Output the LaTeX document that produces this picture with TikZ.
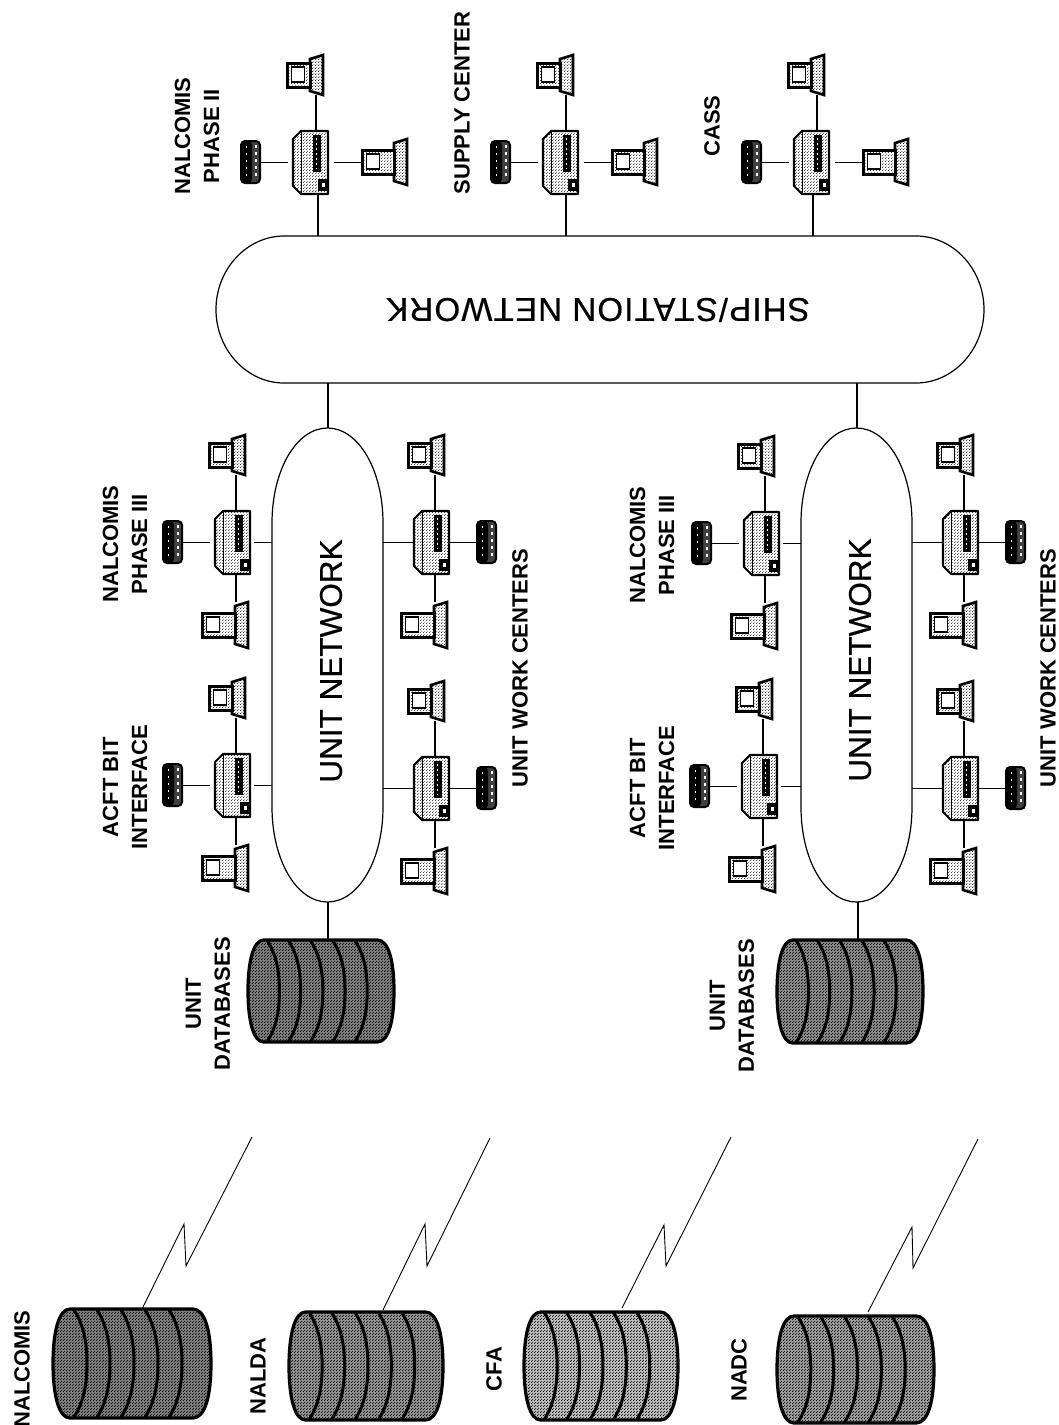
\documentclass[tikz,border=0pt]{standalone}
\usepackage{fontspec}
\setmainfont{Liberation Sans}
\newfontfamily\shipfont[LetterSpace=3.6,FakeBold=0.5]{Liberation Sans}
\newfontfamily\netfont[FakeBold=0.6]{Liberation Sans}
\usetikzlibrary{patterns}
\pgfdeclarepatternformonly{halfdots}{\pgfqpoint{0pt}{0pt}}{\pgfqpoint{3pt}{3pt}}{\pgfqpoint{3pt}{3pt}}{%
  \pgfpathcircle{\pgfqpoint{0.75pt}{0.75pt}}{0.68pt}%
  \pgfpathcircle{\pgfqpoint{2.25pt}{2.25pt}}{0.68pt}%
  \pgfusepath{fill}}
\pgfdeclarepatternformonly{lightdots}{\pgfqpoint{0pt}{0pt}}{\pgfqpoint{3pt}{3pt}}{\pgfqpoint{3pt}{3pt}}{%
  \pgfpathcircle{\pgfqpoint{0.75pt}{0.75pt}}{0.62pt}%
  \pgfpathcircle{\pgfqpoint{2.25pt}{2.25pt}}{0.62pt}%
  \pgfusepath{fill}}
\tikzset{
  iconbox/.style={inner sep=0pt,outer sep=0pt,draw=none},
  link/.style={draw=black,line width=1.1pt},
  boltline/.style={draw=black,line width=0.9pt,line join=miter},
  netline/.style={draw=black,line width=1.2pt},
  tone/.style={pattern=lightdots,pattern color=black},
  label/.style={inner sep=0pt,outer sep=0pt,rotate=90,align=center,font=\fontsize{22}{29}\selectfont\bfseries},
  netlabel/.style={inner sep=0pt,outer sep=0pt,rotate=90,font=\fontsize{31.5}{36}\selectfont\netfont},
}
\newcommand{\mkserver}[3]{%
  \begin{scope}[shift={(#2-22,#3-31)}]
    \path[fill=white] (8,0)--(35,0)--(35,63)--(8,63)--(0,55)--(0,8)--cycle;
    \path[tone] (8,0)--(35,0)--(35,63)--(8,63)--(0,55)--(0,8)--cycle;
    \draw[line width=2.1pt,line join=round] (8,0)--(35,0)--(35,63)--(8,63)--(0,55)--(0,8)--cycle;
    \draw[line width=1pt] (8,1)--(8,62);
    \fill[black] (19.5,4) rectangle (27.5,41);
    \draw[white,line width=1pt,dash pattern=on 2pt off 3pt] (23.5,7)--(23.5,38);
    \fill[black] (25,48) rectangle (35,60);
    \fill[white] (29,52) rectangle (32,56);
  \end{scope}
  \node[iconbox,minimum width=35pt,minimum height=63pt] (#1) at (#2-4.5,#3+0.5) {};
}
% name, left x, width, centre y, half height of base, x offset of the port
\newcommand{\mkterm}[6]{%
  \pgfmathsetmacro{\mw}{#3-13}
  \pgfmathsetmacro{\hl}{#5-4}
  \begin{scope}[shift={(#2,#4)}]
    \path[fill=white] (\mw,-\hl)--(#3,-#5)--(#3,#5)--(\mw,\hl)--cycle;
    \path[tone] (\mw,-\hl)--(#3,-#5)--(#3,#5)--(\mw,\hl)--cycle;
    \draw[line width=2.6pt,line join=miter] (\mw,-\hl)--(#3,-#5)--(#3,#5)--(\mw,\hl)--cycle;
    \path[fill=white] (0,-12) rectangle (\mw,12);
    \path[tone] (0,-12) rectangle (\mw,12);
    \draw[line width=3pt] (0,-12) rectangle (\mw,12);
    \draw[fill=white,line width=1.3pt] (4.5,-8) rectangle (17.5,7);
  \end{scope}
  \node[iconbox,minimum width=#3pt,minimum height=2*#5pt] (#1) at (#2+#3/2,#4) {};
  \coordinate (#1port) at (#2+#6,#4);
}
\newcommand{\mkprinter}[3]{%
  \begin{scope}[shift={(#2,#3)}]
    \draw[fill=black!75,line width=2pt,rounded corners=4pt] (0,-21) rectangle (19,21);
    \fill[black,rounded corners=4pt] (0,-21) rectangle (11,21);
    \draw[white,line width=1pt,dash pattern=on 2pt off 5pt] (5,-16)--(5,16);
    \draw[white,line width=1.2pt,dash pattern=on 3pt off 4pt] (15,-17)--(15,17);
  \end{scope}
  \node[iconbox,minimum width=20pt,minimum height=44pt] (#1) at (#2+10,#3) {};
}
% name, x1, x2, y1, y2, base grey
\newcommand{\mkdb}[6]{%
  \pgfmathsetmacro{\sx}{(#3-#2)/158}
  \pgfmathsetmacro{\sy}{(#5-#4)/109}
  \begin{scope}[shift={(#2,#4)},xscale=\sx,yscale=\sy]
    \def\dbpath{(17,0)--(140,0) .. controls (152,0) and (158,22) .. (158,54.5) .. controls (158,87) and (152,109) .. (140,109) -- (17,109) .. controls (6,109) and (0,87) .. (0,54.5) .. controls (0,22) and (6,0) .. (17,0) -- cycle}
    \path[fill=#6] \dbpath;
    \path[pattern=halfdots] \dbpath;
    \foreach \pk in {34,57,81,105,129} {
      \draw[line width=3pt] (\pk-13,1) .. controls (\pk-3,16) and (\pk,35) .. (\pk,54.5) .. controls (\pk,74) and (\pk-3,93) .. (\pk-13,108);
    }
    \draw[line width=3.2pt] \dbpath;
  \end{scope}
  \node[iconbox,minimum width=#3pt-#2pt,minimum height=#5pt-#4pt] (#1) at ({(#2+#3)/2},{(#4+#5)/2}) {};
}
% id, server x, server y, bottom link offset (ship side)
\newcommand{\shipstation}[4]{%
  \mkserver{#1}{#2}{#3}
  \mkprinter{#1pr}{#2-74}{#3}
  \mkterm{#1tt}{#2-28}{36}{#3-87}{20}{29}
  \mkterm{#1rt}{#2+47}{45}{#3}{23}{0}
  \draw[link] (#1ttport |- #1tt.south) -- (#1ttport |- #1.north);
  \draw[link,shorten >=5pt] (#1pr.east |- #1.center) -- (#1.west);
  \draw[link,shorten <=6pt] (#1.east) -- (#1rt.west |- #1.center);
  \coordinate (#1down) at (#2+#4,#3);
  \draw[link] (#1down |- #1.south) -- (#1down |- ship.north);
}
% id, server x, server y, printer offset
\newcommand{\unitstation}[4]{%
  \mkserver{#1}{#2}{#3}
  \mkprinter{#1pr}{#2+#4}{#3}
  \mkterm{#1tt}{#2-28}{36}{#3-87}{20}{27}
  \mkterm{#1bt}{#2-35}{46}{#3+83}{23}{34}
  \draw[link] (#1ttport |- #1tt.south) -- (#1ttport |- #1.north);
  \draw[link] (#1btport |- #1.south) -- (#1btport |- #1bt.north);
}
\newcommand{\mknet}[3]{%
  \begin{scope}[shift={(#2,#3)}]
    \draw[netline,fill=white] (0,-237) .. controls (31,-237) and (55.5,-195) .. (55.5,-142) -- (55.5,142) .. controls (55.5,195) and (31,237) .. (0,237) .. controls (-31,237) and (-55.5,195) .. (-55.5,142) -- (-55.5,-142) .. controls (-55.5,-195) and (-31,-237) .. (0,-237) -- cycle;
  \end{scope}
  \node[iconbox,minimum width=111pt,minimum height=474pt] (#1) at (#2,#3) {};
}
\begin{document}
\begin{tikzpicture}[x=1pt,y=-1pt]
\useasboundingbox[fill=white] (0,0) rectangle (1059,1425);

% ship / station network
\draw[netline,fill=white] (284,236) -- (916,236) .. controls (953,236) and (984,269) .. (984,309.5) .. controls (984,350) and (953,383) .. (916,383) -- (284,383) .. controls (247,383) and (216,350) .. (216,309.5) .. controls (216,269) and (247,236) .. (284,236) -- cycle;
\node[iconbox,minimum width=768pt,minimum height=147pt] (ship) at (600,309.5) {};
\node[inner sep=0pt,outer sep=0pt,rotate=180,font=\fontsize{33}{36}\selectfont\shipfont] (shiplabel) at (598,310) {SHIP/STATION NETWORK};

\shipstation{nalcii}{315}{162}{3}
\shipstation{supply}{565}{162}{1}
\shipstation{cass}{816}{162}{-3}

\mknet{netone}{327.5}{665}
\mknet{nettwo}{856.5}{665}
\node[netlabel] (netonelabel) at (331,661) {UNIT NETWORK};
\node[netlabel] (nettwolabel) at (860,660) {UNIT NETWORK};

\coordinate (shipone) at (328,383);
\coordinate (shiptwo) at (857,383);
\draw[link] (shipone) -- (shipone |- netone.north);
\draw[link] (shiptwo) -- (shiptwo |- nettwo.north);

% clusters of the first unit network
\unitstation{ua}{237}{542}{-74}
\unitstation{ub}{237}{785}{-74}
\unitstation{uc}{436}{542}{41}
\unitstation{ud}{436}{788}{41}
% clusters of the second unit network
\unitstation{va}{766}{543}{-74}
\unitstation{vb}{764}{786}{-74}
\unitstation{vc}{965}{542}{41}
\unitstation{vd}{965}{788}{41}

\foreach \s/\n in {ua/netone,ub/netone,va/nettwo,vb/nettwo} {
  \draw[link,shorten >=5pt] (\s pr.east |- \s.center) -- (\s.west);
  \draw[link,shorten <=4pt] (\s.east) -- (\s.center -| \n.west);
}
\foreach \s/\n in {uc/netone,ud/netone,vc/nettwo,vd/nettwo} {
  \draw[link] (\s.east) -- (\s pr.west |- \s.center);
  \draw[link] (\s.center -| \n.east) -- (\s.west);
}

% databases
\mkdb{dbone}{248}{394}{940}{1042}{black!50}
\mkdb{dbtwo}{777}{923}{940}{1043}{black!45}
\coordinate (dbonelink) at (328,940);
\coordinate (dbtwolink) at (858,940);
\draw[link] (dbonelink |- netone.south) -- (dbonelink |- dbone.north);
\draw[link] (dbtwolink |- nettwo.south) -- (dbtwolink |- dbtwo.north);

\mkdb{dbnalc}{53}{211}{1309}{1418}{black!50}
\mkdb{dbnalda}{289}{443}{1312}{1420}{black!42}
\mkdb{dbcfa}{524}{678}{1312}{1420}{black!25}
\mkdb{dbnadc}{777}{934}{1316}{1423}{black!38}

% radio links
\coordinate (ba) at (252,1137); \coordinate (ba1) at (186,1266); \coordinate (ba2) at (184,1224); \coordinate (ba3) at (142,1309);
\draw[boltline] (ba) -- (ba1) -- (ba2) -- (ba3 |- dbnalc.north);
\coordinate (bb) at (490,1138); \coordinate (bb1) at (427,1266); \coordinate (bb2) at (425,1224); \coordinate (bb3) at (383,1310);
\draw[boltline] (bb) -- (bb1) -- (bb2) -- (bb3);
\coordinate (bc) at (731,1137); \coordinate (bc1) at (666,1266); \coordinate (bc2) at (664,1225); \coordinate (bc3) at (622,1308);
\draw[boltline] (bc) -- (bc1) -- (bc2) -- (bc3);
\coordinate (bd) at (978,1139); \coordinate (bd1) at (913,1268); \coordinate (bd2) at (912,1227); \coordinate (bd3) at (868,1312);
\draw[boltline] (bd) -- (bd1) -- (bd2) -- (bd3);

% labels
\node[label] (l1) at (197,136) {NALCOMIS\\PHASE II};
\node[label] (l2) at (462,103) {SUPPLY CENTER};
\node[label] (l3) at (712,126) {CASS};
\node[label] (l4) at (125,544) {NALCOMIS\\PHASE III};
\node[label] (l5) at (125,787) {ACFT BIT\\INTERFACE};
\node[label] (l6) at (520,668) {UNIT WORK CENTERS};
\node[label] (l7) at (652,545) {NALCOMIS\\PHASE III};
\node[label] (l8) at (652,788) {ACFT BIT\\INTERFACE};
\node[label] (l9) at (1048,668) {UNIT WORK CENTERS};
\node[label] (l10) at (208,1004) {UNIT\\DATABASES};
\node[label] (l11) at (732,1006) {UNIT\\DATABASES};
\node[label] (l12) at (22,1369) {NALCOMIS};
\node[label] (l13) at (258,1376) {NALDA};
\node[label] (l14) at (494,1369) {CFA};
\node[label] (l15) at (739,1370) {NADC};
\end{tikzpicture}
\end{document}
